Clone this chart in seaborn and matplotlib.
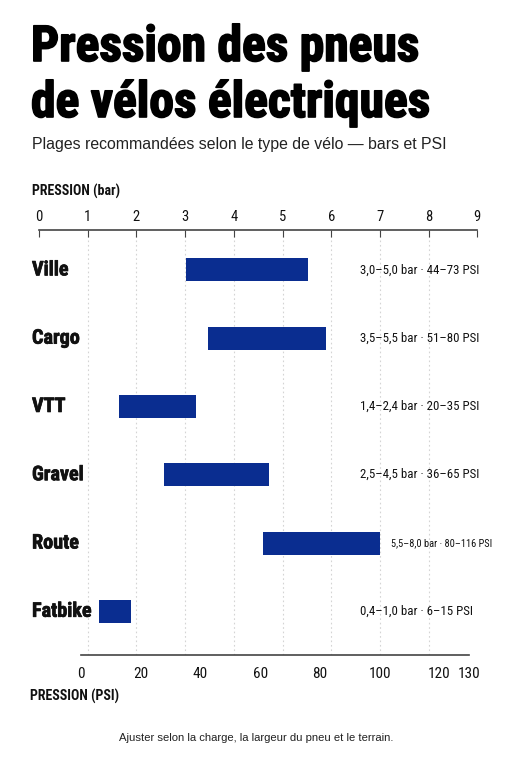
import matplotlib
matplotlib.use("Agg")
import matplotlib.pyplot as plt
import matplotlib.transforms as mtransforms
import matplotlib.patheffects as pe
import seaborn as sns
import pandas as pd

# ---- data ----
categories = ["Ville", "Cargo", "VTT", "Gravel", "Route", "Fatbike"]
bar_start = [3.02, 3.46, 1.64, 2.56, 4.60, 1.23]   # bar (as drawn)
bar_end = [5.52, 5.89, 3.22, 4.73, 7.00, 1.88]      # bar (as drawn)
range_labels = [
    "3,0–5,0 bar · 44–73 PSI",
    "3,5–5,5 bar · 51–80 PSI",
    "1,4–2,4 bar · 20–35 PSI",
    "2,5–4,5 bar · 36–65 PSI",
    "5,5–8,0 bar · 80–116 PSI",
    "0,4–1,0 bar · 6–15 PSI",
]
bar_ticks = [0, 1, 2, 3, 4, 5, 6, 7, 8, 9]
psi_ticks = [0, 20, 40, 60, 80, 100, 120, 130]

title_lines = ["Pression des pneus", "de vélos électriques"]
subtitle = "Plages recommandées selon le type de vélo — bars et PSI"
top_label = "PRESSION (bar)"
bottom_label = "PRESSION (PSI)"
footnote = "Ajuster selon la charge, la largeur du pneu et le terrain."

# ---- style ----
sns.set_theme(style="white")
COND = ["Roboto Condensed", "DejaVu Sans"]
REG = ["Liberation Sans", "DejaVu Sans"]
plt.rcParams["font.family"] = COND
BLUE = "#0a2d90"
AXC = "#444444"

W, H = 511, 768
fig = plt.figure(figsize=(W / 100, H / 100), dpi=100)
fig.patch.set_facecolor("white")

def fx(px):
    return px / W

def fy(py):
    return 1 - py / H

# main axes (bar scale on top)
x0, x1 = 39, 477.3
y_top, y_bot = 230.3, 655
ax = fig.add_axes([fx(x0), fy(y_bot), (x1 - x0) / W, (y_bot - y_top) / H])
ax.set_facecolor("white")

df = pd.DataFrame({
    "cat": categories,
    "start": bar_start,
    "width": [e - s for s, e in zip(bar_start, bar_end)],
})
sns.barplot(data=df, x="width", y="cat", left=df["start"].to_numpy(),
            orient="h", color=BLUE, width=0.337, errorbar=None,
            saturation=1, ax=ax, linewidth=0)

ax.set_xlim(0, 9)
ax.set_ylim(5.64, -0.58)
ax.set_xlabel("")
ax.set_ylabel("")
ax.set_yticks([])
for s in ["left", "right", "bottom"]:
    ax.spines[s].set_visible(False)
ax.spines["top"].set_visible(True)
ax.spines["top"].set_color(AXC)
ax.spines["top"].set_linewidth(1.2)
ax.xaxis.tick_top()
ax.set_xticks(bar_ticks)
ax.set_xticklabels([str(t) for t in bar_ticks], fontsize=10.5, color="#111111")
ax.tick_params(axis="x", direction="in", length=5, width=0.8, color=AXC,
               pad=4.5, top=True, bottom=False)
ax.grid(axis="x", color="#d4d4d4", linestyle=(0, (1.5, 2.5)), linewidth=0.8)
gl = ax.xaxis.get_gridlines()
gl[0].set_visible(False)
gl[-1].set_visible(False)
ax.set_axisbelow(True)

# category labels and range labels
cat_tr = mtransforms.blended_transform_factory(fig.transFigure, ax.transData)
for i, (c, lab, e) in enumerate(zip(categories, range_labels, bar_end)):
    ax.text(fx(32), i, c, transform=cat_tr, ha="left", va="center",
            fontsize=14.5, fontweight="bold", color="#111111",
            path_effects=[pe.withStroke(linewidth=0.5, foreground="#111111")])
    xt = max(6.59, e + 0.23)
    fs = 9.3 if len(lab) <= 23 else 7.5
    ax.text(xt, i, lab, ha="left", va="center", fontsize=fs,
            fontweight="normal", color="#111111")

# PSI axis at bottom
p0, p1 = 81, 469.3
axp = fig.add_axes([fx(p0), fy(y_bot), (p1 - p0) / W, 0.0001])
axp.set_facecolor("none")
axp.set_xlim(0, 130)
axp.set_yticks([])
for s in ["left", "right", "top"]:
    axp.spines[s].set_visible(False)
axp.spines["bottom"].set_color(AXC)
axp.spines["bottom"].set_linewidth(1.2)
axp.set_xticks(psi_ticks)
axp.set_xticklabels([str(t) for t in psi_ticks], fontsize=11, color="#111111")
axp.tick_params(axis="x", direction="out", length=3, width=0.8, color=AXC, pad=6)

# title, fitted to the reference width
renderer = fig.canvas.get_renderer()
heavy = [pe.withStroke(linewidth=1.2, foreground="#000000")]
t1 = fig.text(fx(31), fy(61), title_lines[0], fontsize=40, fontweight="bold",
              ha="left", va="baseline", color="#000000")
wpx = t1.get_window_extent(renderer).width
tfs = 40 * 388 / wpx
t1.set_fontsize(tfs)
t1.set_path_effects(heavy)
fig.text(fx(31), fy(117), title_lines[1], fontsize=tfs, fontweight="bold",
         ha="left", va="baseline", color="#000000", path_effects=heavy)
fig.text(fx(32), fy(149), subtitle, fontsize=11.4, family=REG,
         ha="left", va="baseline", color="#222222")
fig.text(fx(32), fy(191), top_label, fontsize=10, fontweight="bold",
         ha="left", va="center", color="#111111")
fig.text(fx(30.5), fy(696), bottom_label, fontsize=10, fontweight="bold",
         ha="left", va="center", color="#111111")
fig.text(fx(256), fy(738), footnote, fontsize=8.1, family=REG,
         ha="center", va="center", color="#222222")

fig.savefig("out.png", dpi=100, facecolor="white")
